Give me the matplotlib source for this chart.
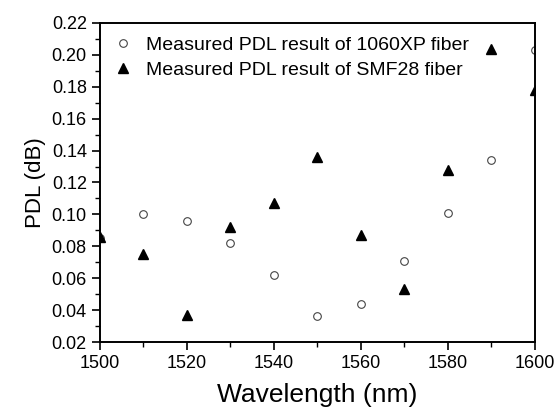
import matplotlib
matplotlib.use('Agg')
import matplotlib.pyplot as plt
from matplotlib.ticker import MultipleLocator

plt.rcParams['font.family'] = ['Liberation Sans', 'DejaVu Sans']

wavelength = [1500, 1510, 1520, 1530, 1540, 1550, 1560, 1570, 1580, 1590, 1600]
pdl_1060xp = [0.085, 0.100, 0.096, 0.082, 0.062, 0.036, 0.044, 0.071, 0.101, 0.134, 0.203]
pdl_smf28 = [0.086, 0.075, 0.037, 0.092, 0.107, 0.136, 0.087, 0.053, 0.128, 0.204, 0.178]

fig = plt.figure(figsize=(5.57, 4.07), dpi=100)
ax = fig.add_axes([0.1795, 0.1597, 0.781, 0.7838])

ax.plot(wavelength, pdl_1060xp, 'o', ms=5.5, mfc='white', mec='#444444', mew=0.8,
        label='Measured PDL result of 1060XP fiber')
ax.plot(wavelength, pdl_smf28, '^', ms=6.5, color='black',
        label='Measured PDL result of SMF28 fiber')

ax.set_xlim(1500, 1600)
ax.set_ylim(0.02, 0.22)
ax.xaxis.set_major_locator(MultipleLocator(20))
ax.xaxis.set_minor_locator(MultipleLocator(10))
ax.yaxis.set_major_locator(MultipleLocator(0.02))
ax.yaxis.set_minor_locator(MultipleLocator(0.01))
ax.yaxis.set_major_formatter(matplotlib.ticker.FormatStrFormatter('%.2f'))
ax.tick_params(which='major', direction='out', length=6, width=1.2, labelsize=13)
ax.tick_params(which='minor', direction='out', length=3.5, width=1.0)
for s in ax.spines.values():
    s.set_linewidth(1.4)

ax.set_xlabel('Wavelength (nm)', fontsize=19, labelpad=8)
ax.set_ylabel('PDL (dB)', fontsize=16, labelpad=4)

ax.legend(loc='upper left', frameon=False, fontsize=14, handletextpad=0.6,
          borderaxespad=0.3, labelspacing=0.35, handlelength=1.2,
          bbox_to_anchor=(-0.005, 1.0))

fig.savefig('out.png', dpi=100)
